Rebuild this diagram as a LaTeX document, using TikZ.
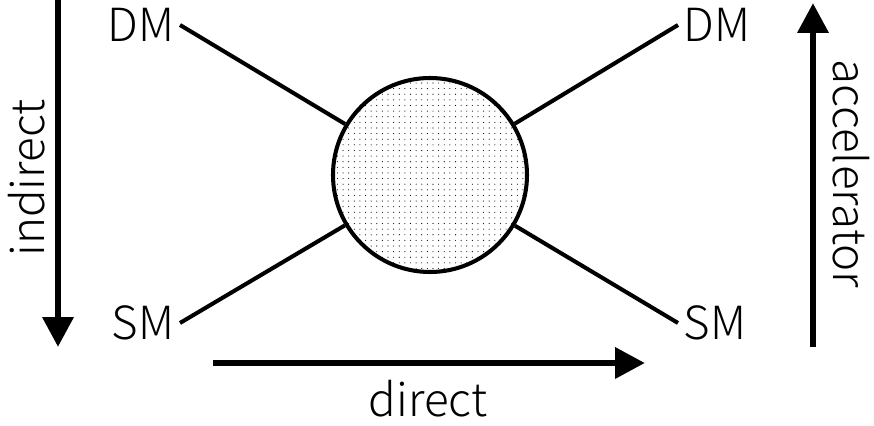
\documentclass[tikz,border=0pt]{standalone}
\usepackage{fontspec}
\setmainfont{Noto Sans CJK JP}[UprightFont=* Light]
\usetikzlibrary{arrows.meta,patterns.meta}

\tikzdeclarepattern{
  name=finedots,
  type=uncolored,
  bounding box={(-0.5pt,-0.5pt) and (0.5pt,0.5pt)},
  tile size={(3.2pt,3.2pt)},
  code={\fill (0pt,0pt) circle[radius=0.32pt];}
}

\begin{document}
\begin{tikzpicture}[scale=1.0,>={Triangle[length=17pt,width=17pt]},
    lbl/.style={font=\fontsize{26}{31}\selectfont,inner sep=3pt},
    leg/.style={line width=2.3pt},
    flow/.style={line width=3.8pt,->}]
  \useasboundingbox (0,0) rectangle (17.48,8.52);
  % the blob
  \node[circle,draw,line width=2.3pt,pattern=finedots,minimum size=3.88cm,inner sep=0pt] (blob) at (8.6,5.02) {};
  % particle labels
  \node[lbl,anchor=east] (dmL) at (3.6,8.02) {DM};
  \node[lbl,anchor=east] (smL) at (3.6,2.06) {SM};
  \node[lbl,anchor=west] (dmR) at (13.56,8.02) {DM};
  \node[lbl,anchor=west] (smR) at (13.56,2.06) {SM};
  \draw[leg] (dmL.east) -- (blob);
  \draw[leg] (smL.east) -- (blob);
  \draw[leg] (dmR.west) -- (blob);
  \draw[leg] (smR.west) -- (blob);
  % detection channels
  \coordinate (indA) at (1.16,8.52);
  \coordinate (indB) at (1.16,1.58);
  \coordinate (accA) at (16.26,1.58);
  \coordinate (accB) at (16.26,8.46);
  \coordinate (dirA) at (4.26,1.26);
  \coordinate (dirB) at (12.9,1.26);
  \draw[flow] (indA) -- (indB);
  \draw[flow] (accA) -- (accB);
  \draw[flow] (dirA) -- (dirB);
  \node[lbl,rotate=90] (ind) at (0.54,4.96) {indirect};
  \node[lbl,rotate=-90] (acc) at (17.02,5.04) {accelerator};
  \node[lbl,anchor=base] (dir) at (8.56,0.18) {direct};
\end{tikzpicture}
\end{document}
